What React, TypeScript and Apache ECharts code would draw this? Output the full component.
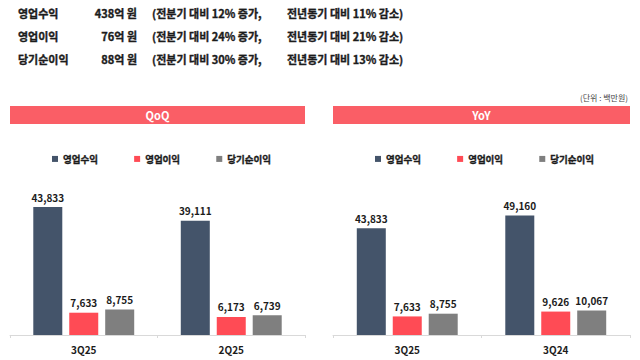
import React, { useEffect, useRef } from "react";
import * as echarts from "echarts";

const seriesNames = ["영업수익", "영업이익", "당기순이익"];
const seriesColors = ["#44546A", "#FF4B55", "#7F7F7F"];

const qoqCategories = ["3Q25", "2Q25"];
const qoqRevenue = [43833, 39111];
const qoqOperating = [7633, 6173];
const qoqNet = [8755, 6739];

const yoyCategories = ["3Q25", "3Q24"];
const yoyRevenue = [43833, 49160];
const yoyOperating = [7633, 9626];
const yoyNet = [8755, 10067];

const summaryLabels = ["영업수익", "영업이익", "당기순이익"];
const summaryAmounts = ["438억 원", "76억 원", "88억 원"];
const summaryQoq = ["(전분기 대비 12% 증가,", "(전분기 대비 24% 증가,", "(전분기 대비 30% 증가,"];
const summaryYoy = ["전년동기 대비 11% 감소)", "전년동기 대비 21% 감소)", "전년동기 대비 13% 감소)"];

const FONT = "'Noto Sans CJK KR', 'Noto Sans', sans-serif";
const TEXT = "#1c1c1c";
const BANNER = "#FA5E66";

export default function App() {
  const ref = useRef<HTMLDivElement>(null);

  useEffect(() => {
    if (!ref.current) return;
    const chart = echarts.init(ref.current, null, { renderer: "svg" });

    const rowY = [13, 36, 59];
    const headerTexts: any[] = [];
    summaryLabels.forEach((lab, i) => {
      const base = {
        fontFamily: FONT,
        fontSize: 11,
        fontWeight: "bold",
        fill: TEXT,
        stroke: TEXT,
        lineWidth: 0.35,
        verticalAlign: "middle",
      };
      headerTexts.push({ type: "text", x: 18, y: rowY[i], style: { ...base, text: lab, align: "left" } });
      headerTexts.push({ type: "text", x: 137, y: rowY[i], style: { ...base, text: summaryAmounts[i], align: "right" } });
      headerTexts.push({ type: "text", x: 152, y: rowY[i], style: { ...base, text: summaryQoq[i], align: "left" } });
      headerTexts.push({ type: "text", x: 287, y: rowY[i], style: { ...base, text: summaryYoy[i], align: "left" } });
    });

    const makeBars = (data: number[][], axisIdx: number) =>
      data.map((d, i) => ({
        name: seriesNames[i],
        type: "bar",
        xAxisIndex: axisIdx,
        yAxisIndex: axisIdx,
        data: d,
        barWidth: 29,
        barGap: "24%",
        itemStyle: { color: seriesColors[i] },
        label: {
          show: true,
          position: "top",
          distance: 5,
          fontFamily: FONT,
          fontSize: 10,
          fontWeight: "bold",
          color: TEXT,
          formatter: (p: any) => Number(p.value).toLocaleString("en-US"),
        },
      }));

    const xAxisBase = {
      type: "category",
      axisLine: { lineStyle: { color: "#D9D9D9", width: 1 } },
      axisTick: { show: true, length: 3, lineStyle: { color: "#D9D9D9" } },
      axisLabel: { fontFamily: FONT, fontSize: 10, fontWeight: "bold", color: TEXT, margin: 9 },
    };
    const yAxisBase = { type: "value", min: 0, show: false, splitLine: { show: false } };

    const legendBase = {
      top: 149,
      icon: "rect",
      itemWidth: 6,
      itemHeight: 6,
      itemGap: 36,
      textStyle: {
        fontFamily: FONT,
        fontSize: 9.5,
        fontWeight: "bold",
        color: TEXT,
        textBorderColor: TEXT,
        textBorderWidth: 0.35,
      },
      data: seriesNames,
    };

    chart.setOption({
      animation: false,
      backgroundColor: "#ffffff",
      grid: [
        { left: 10, width: 295, top: 189, bottom: 25 },
        { left: 333, width: 297, top: 189, bottom: 25 },
      ],
      xAxis: [
        { ...xAxisBase, gridIndex: 0, data: qoqCategories },
        { ...xAxisBase, gridIndex: 1, data: yoyCategories },
      ],
      yAxis: [
        { ...yAxisBase, gridIndex: 0, max: 50000 },
        { ...yAxisBase, gridIndex: 1, max: 60000 },
      ],
      legend: [
        { ...legendBase, left: 47 },
        { ...legendBase, left: 370 },
      ],
      series: [
        ...makeBars([qoqRevenue, qoqOperating, qoqNet], 0),
        ...makeBars([yoyRevenue, yoyOperating, yoyNet], 1),
      ],
      graphic: [
        ...headerTexts,
        {
          type: "text",
          x: 628,
          y: 97,
          style: { text: "(단위 : 백만원)", fontFamily: FONT, fontSize: 8, fill: "#444", align: "right", verticalAlign: "middle" },
        },
        { type: "rect", shape: { x: 10, y: 106, width: 295, height: 18 }, style: { fill: BANNER } },
        { type: "rect", shape: { x: 333, y: 106, width: 297, height: 18 }, style: { fill: BANNER } },
        {
          type: "text",
          x: 157.5,
          y: 115,
          style: { text: "QoQ", fontFamily: FONT, fontSize: 11, fontWeight: "bold", fill: "#fff", align: "center", verticalAlign: "middle" },
        },
        {
          type: "text",
          x: 481.5,
          y: 115,
          style: { text: "YoY", fontFamily: FONT, fontSize: 11, fontWeight: "bold", fill: "#fff", align: "center", verticalAlign: "middle" },
        },
      ],
    });

    return () => chart.dispose();
  }, []);

  return (
    <div style={{ position: "fixed", left: 0, top: 0, width: 640, height: 360, background: "#fff" }}>
      <div ref={ref} style={{ width: 640, height: 360 }} />
    </div>
  );
}
